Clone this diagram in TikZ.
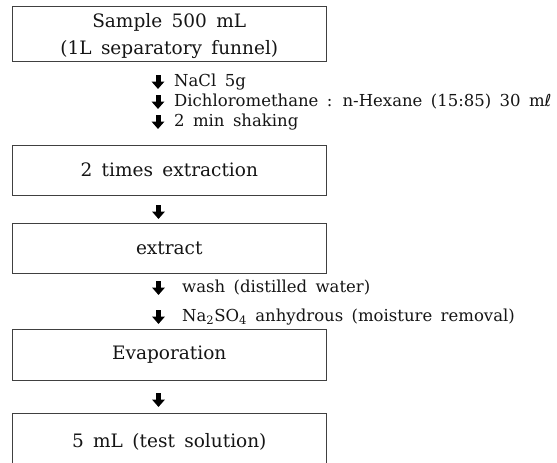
\documentclass[tikz,border=0pt]{standalone}
\usepackage{fontspec}
\setmainfont[WordSpace=1.6]{DejaVu Serif}
\newfontfamily\symfont{DejaVu Sans}
\usetikzlibrary{arrows.meta}
\definecolor{edge}{HTML}{404040}
\definecolor{ink}{HTML}{151515}
\tikzset{
  box/.style={draw=edge, line width=1pt, minimum width=313.5pt, inner sep=0pt, text=ink, font=\fontsize{18.5}{27}\selectfont, align=center},
  note/.style={anchor=west, inner sep=0pt, text=ink, font=\fontsize{16.5}{19}\selectfont},
  fatarrow/.style={line width=5pt, draw=black, -{Triangle[width=12.5pt,length=7.5pt]}}
}
\begin{document}
\begin{tikzpicture}[x=1pt,y=-1pt]
\clip (0,0) rectangle (557,463);
\fill[white] (0,0) rectangle (557,463);
% boxes
\node[box, minimum height=55pt] (b1) at (169.25,33.5) {\rule{0pt}{20pt}Sample 500 mL\\(1L separatory funnel)};
\node[box, minimum height=50pt] (b2) at (169.25,170) {2 times extraction};
\node[box, minimum height=50pt] (b3) at (169.25,248) {extract};
\node[box, minimum height=51pt] (b4) at (169.25,354.5) {Evaporation};
\node[box, minimum height=57pt] (b5) at (169.25,441.5) {5 mL (test solution)};
% notes after box 1
\node[note] (n1) at (174,82) {NaCl 5g};
\node[note] (n2) at (174,102) {Dichloromethane : n-Hexane (15:85) 30 m{\symfont ℓ}};
\node[note] (n3) at (174,122) {2 min shaking};
\coordinate (a1s) at (158,75); \coordinate (a1e) at (158,89);
\coordinate (a2s) at (158,95); \coordinate (a2e) at (158,109);
\coordinate (a3s) at (158,115); \coordinate (a3e) at (158,129);
\draw[fatarrow] (a1s) -- (a1e);
\draw[fatarrow] (a2s) -- (a2e);
\draw[fatarrow] (a3s) -- (a3e);
% arrow box2 -> box3
\coordinate (a4s) at (158.5,205); \coordinate (a4e) at (158.5,219);
\draw[fatarrow] (a4s) -- (a4e);
% notes after box 3
\node[note] (n4) at (182,288) {wash (distilled water)};
\node[note] (n5) at (182,317) {Na\textsubscript{2}SO\textsubscript{4} anhydrous (moisture removal)};
\coordinate (a5s) at (158.5,281); \coordinate (a5e) at (158.5,295);
\coordinate (a6s) at (158.5,310); \coordinate (a6e) at (158.5,324);
\draw[fatarrow] (a5s) -- (a5e);
\draw[fatarrow] (a6s) -- (a6e);
% arrow box4 -> box5
\coordinate (a7s) at (158.5,393); \coordinate (a7e) at (158.5,407);
\draw[fatarrow] (a7s) -- (a7e);
\end{tikzpicture}
\end{document}
